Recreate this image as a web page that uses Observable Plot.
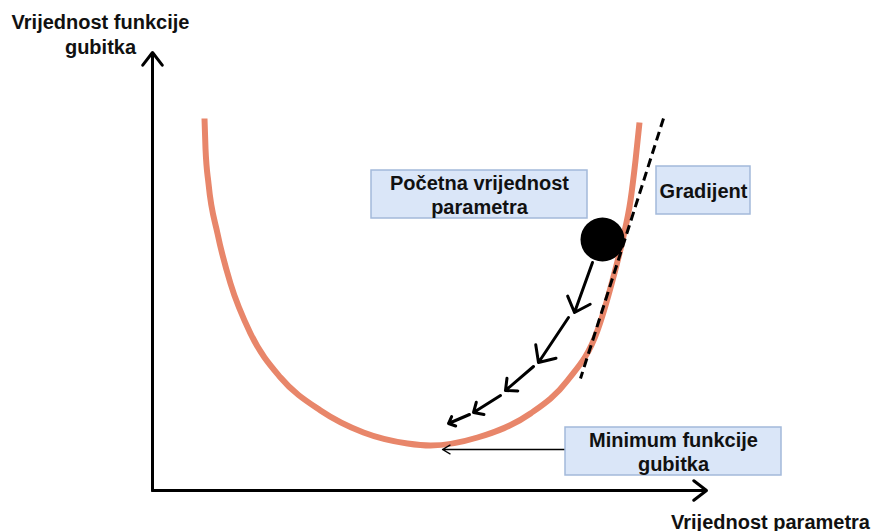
<!DOCTYPE html>
<html>
<head>
<meta charset="utf-8">
<script src="https://cdn.jsdelivr.net/npm/d3@7"></script>
<script src="https://cdn.jsdelivr.net/npm/@observablehq/plot@0.6"></script>
<style>
  html, body { margin: 0; padding: 0; background: #fff; }
  #chart { width: 875px; height: 531px; }
</style>
</head>
<body>
<div id="chart"></div>
<script>
// Loss curve (parameter value, loss value)
const curveX = [204, 205, 208, 217, 230, 250, 280, 320, 363, 407, 430, 477, 530, 567, 597, 612, 622, 630, 635, 639];
const curveY = [413, 383, 348, 298, 248, 198, 154, 121, 99, 88, 86, 94, 118, 151, 201, 251, 291, 331, 371, 409];

// Axes (origin and arrow ends)
const axisX1 = [152, 152];
const axisY1 = [41, 41];
const axisX2 = [152, 706];
const axisY2 = [479, 41];

// Gradient tangent
const tangentX = [663, 580];
const tangentY = [413, 153];

// Starting point (ball)
const ballX = [602];
const ballY = [292];

// Descent steps
const stepX1 = [592, 568, 533, 500, 469];
const stepY1 = [269, 214, 165, 136, 117];
const stepX2 = [574, 538, 505, 473, 448];
const stepY2 = [219, 169, 141, 119, 108];

// Pointer to minimum
const pointerX1 = [565], pointerY1 = [82], pointerX2 = [442], pointerY2 = [82];

// Label boxes
const boxLabels = ["Početna vrijednost\nparametra", "Gradijent", "Minimum funkcije\ngubitka"];
const boxX1 = [371, 656, 565];
const boxX2 = [587, 750, 781];
const boxY1 = [313, 317, 56];
const boxY2 = [361, 365, 104];

// Axis titles
const axisTitles = ["Vrijednost funkcije\ngubitka", "Vrijednost parametra"];
const axisTitleX = [100, 770];
const axisTitleY = [498, 11];

const curve = curveX.map((x, i) => ({x, y: curveY[i]}));
const axes = axisX1.map((x1, i) => ({x1, y1: axisY1[i], x2: axisX2[i], y2: axisY2[i]}));
const steps = stepX1.map((x1, i) => ({x1, y1: stepY1[i], x2: stepX2[i], y2: stepY2[i]}));
const pointer = pointerX1.map((x1, i) => ({x1, y1: pointerY1[i], x2: pointerX2[i], y2: pointerY2[i]}));
const tangent = [{x1: tangentX[0], y1: tangentY[0], x2: tangentX[1], y2: tangentY[1]}];
const ball = ballX.map((x, i) => ({x, y: ballY[i]}));
const boxes = boxLabels.map((t, i) => ({t, x1: boxX1[i], x2: boxX2[i], y1: boxY1[i], y2: boxY2[i]}));
const titles = axisTitles.map((t, i) => ({t, x: axisTitleX[i], y: axisTitleY[i]}));

const font = "'Liberation Sans', Arial, Helvetica, sans-serif";

const chart = Plot.plot({
  width: 875,
  height: 531,
  margin: 0,
  x: {domain: [0, 875], axis: null},
  y: {domain: [0, 531], axis: null},
  style: {fontFamily: font, background: "#fff"},
  marks: [
    Plot.arrow(axes, {x1: "x1", y1: "y1", x2: "x2", y2: "y2", stroke: "#000", strokeWidth: 3, headLength: 8, headAngle: 75}),
    Plot.line(curve, {x: "x", y: "y", stroke: "#e8866a", strokeWidth: 6, curve: "monotone-x", strokeLinecap: "butt"}),
    Plot.link(tangent, {x1: "x1", y1: "y1", x2: "x2", y2: "y2", stroke: "#000", strokeWidth: 3, strokeDasharray: "9,5"}),
    Plot.dot(ball, {x: "x", y: "y", r: 22, fill: "#000"}),
    Plot.arrow(steps, {x1: "x1", y1: "y1", x2: "x2", y2: "y2", stroke: "#000", strokeWidth: 3, headLength: 12, headAngle: 85}),
    Plot.arrow(pointer, {x1: "x1", y1: "y1", x2: "x2", y2: "y2", stroke: "#000", strokeWidth: 1.3, headLength: 10, headAngle: 60}),
    Plot.rect(boxes, {x1: "x1", x2: "x2", y1: "y1", y2: "y2", fill: "#dae6f8", stroke: "#a3b9da", strokeWidth: 1.5}),
    Plot.text(boxes, {x: d => (d.x1 + d.x2) / 2, y: d => (d.y1 + d.y2) / 2, text: "t", fontSize: 20, fontWeight: "bold", fill: "#111", lineHeight: 1.2}),
    Plot.text(titles, {x: "x", y: "y", text: "t", fontSize: 20, fontWeight: "bold", fill: "#111", lineHeight: 1.25})
  ]
});
document.getElementById("chart").appendChild(chart);
</script>
</body>
</html>
